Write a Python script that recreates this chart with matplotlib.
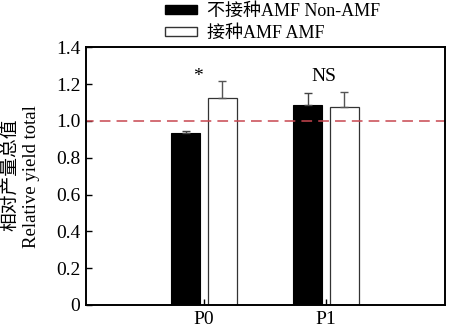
import matplotlib
matplotlib.use("Agg")
import matplotlib.pyplot as plt
from matplotlib.patches import Patch
import numpy as np

plt.rcParams['font.family'] = ['Liberation Serif', 'Noto Sans CJK SC']

categories = ["P0", "P1"]
non_amf = [0.933, 1.087]
non_amf_err = [0.011, 0.065]
amf = [1.123, 1.078]
amf_err = [0.096, 0.081]
sig_labels = ["*", "NS"]
sig_y = [1.24, 1.24]
legend_labels = ["不接种AMF Non-AMF", "接种AMF AMF"]
ylabel_cn = "相对产量总值"
ylabel_en = "Relative yield total"
y_ticks = [0, 0.2, 0.4, 0.6, 0.8, 1.0, 1.2, 1.4]
y_ticklabels = ["0", "0.2", "0.4", "0.6", "0.8", "1.0", "1.2", "1.4"]

fig = plt.figure(figsize=(4.5, 3.27), dpi=100)
ax = fig.add_axes([0.191, 0.0673, 0.798, 0.788])

x = np.arange(1, len(categories) + 1)
w = 0.235
off = 0.15
ax.bar(x - off, non_amf, w, color="black", edgecolor="black", linewidth=0.8,
       yerr=[np.zeros(len(x)), non_amf_err], capsize=3,
       error_kw=dict(ecolor="#444444", elinewidth=1, capthick=1))
ax.bar(x + off, amf, w, color="white", edgecolor="#333333", linewidth=0.9,
       yerr=[np.zeros(len(x)), amf_err], capsize=3,
       error_kw=dict(ecolor="#555555", elinewidth=1, capthick=1))

ax.axhline(1.0, color="#c8464f", linestyle=(2, (7, 4)), linewidth=1.1)

sig_dx = [-0.05, -0.02]
for xi, lab, yy, dx in zip(x, sig_labels, sig_y, sig_dx):
    ax.text(xi + dx, yy, lab, ha="center", va="center", fontsize=14)

ax.set_xlim(0.033, 2.975)
ax.set_ylim(0, 1.4)
ax.set_xticks(x)
ax.set_xticklabels(categories, fontsize=14)
ax.set_yticks(y_ticks)
ax.set_yticklabels(y_ticklabels, fontsize=14)
ax.tick_params(direction="in", length=4, width=1, pad=4)
ax.tick_params(axis="x", pad=4)
for s in ax.spines.values():
    s.set_linewidth(1.4)

# two-line y-axis title: Chinese on the outer line, English inside
fig.text(10 / 450, 1 - 175 / 327, ylabel_cn, rotation=90, ha="center", va="center",
         fontsize=13.5)
fig.text(31 / 450, 1 - 177 / 327, ylabel_en, rotation=90, ha="center", va="center",
         fontsize=13.5)

handles = [Patch(facecolor="black", edgecolor="black"),
           Patch(facecolor="white", edgecolor="#333333")]
fig.legend(handles, legend_labels, loc="upper left", bbox_to_anchor=(0.335, 1.035),
           frameon=False, fontsize=13, handlelength=1.75, handleheight=0.45,
           handletextpad=0.55, labelspacing=0.28, borderpad=0.3)

fig.savefig("out.png", dpi=100)
